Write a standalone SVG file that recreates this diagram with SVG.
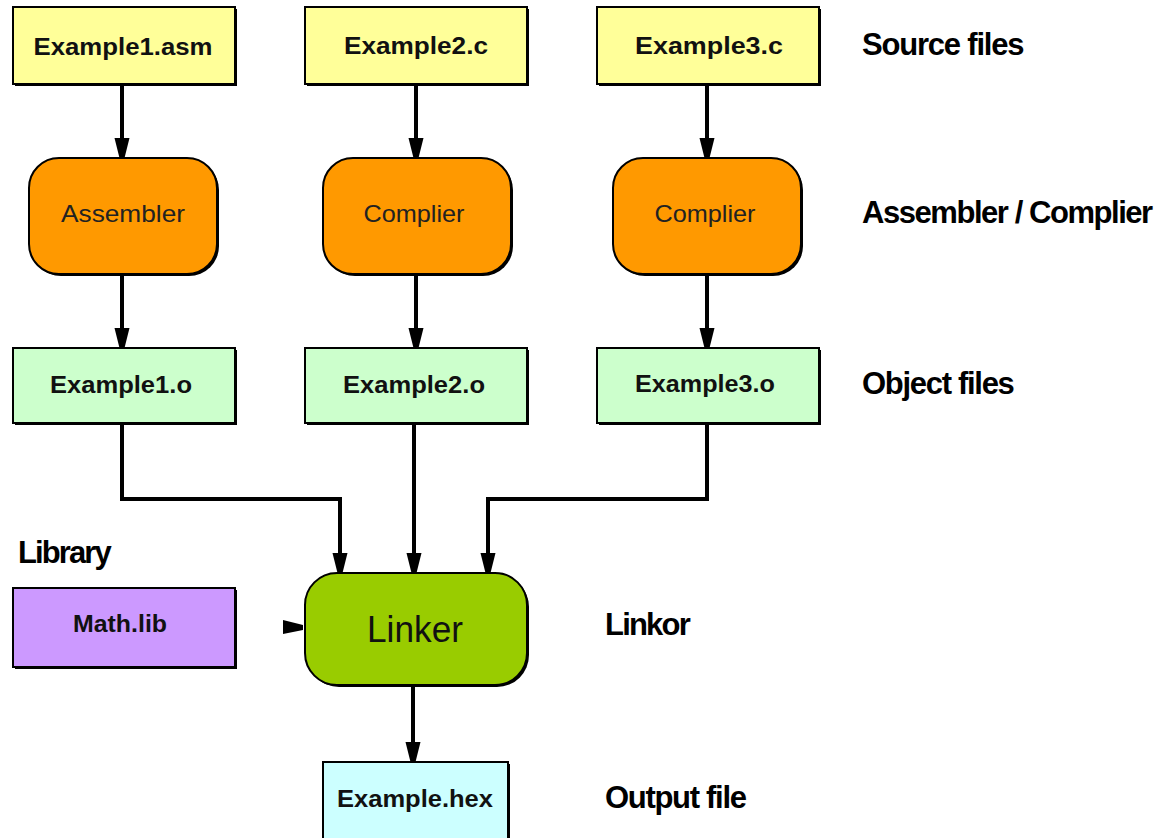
<svg xmlns="http://www.w3.org/2000/svg" width="1172" height="838" viewBox="0 0 1172 838">
  <defs>
    <style>
      .box { stroke: #000; stroke-width: 2; }
      .shadow { fill: #000; }
      .src { fill: #FFFF99; }
      .proc { fill: #FF9900; }
      .obj { fill: #CCFFCC; }
      .link { fill: #99CC00; }
      .lib { fill: #CC99FF; }
      .out { fill: #CCFFFF; }
      .node-text { font-family: "Liberation Sans", Arial, sans-serif; font-weight: bold; font-size: 23px; fill: #111; text-anchor: middle; }
      .proc-text { font-family: "Liberation Sans", Arial, sans-serif; font-size: 24px; fill: #222; text-anchor: middle; }
      .link-text { font-family: "Liberation Sans", Arial, sans-serif; font-size: 37px; fill: #111; text-anchor: middle; }
      .label { font-family: "Liberation Sans", Arial, sans-serif; font-weight: bold; font-size: 31px; fill: #000; }
      .wire { fill: none; stroke: #000; stroke-width: 4; marker-end: url(#head); }
    </style>
    <marker id="head" markerUnits="userSpaceOnUse" viewBox="0 0 20 16" markerWidth="20" markerHeight="16" refX="19" refY="8" orient="auto">
      <path d="M0,0.5 L20,5.5 L20,10.5 L0,15.5 Z" fill="#000"/>
    </marker>
  </defs>

  <rect width="1172" height="838" fill="#fff"/>

  <!-- connectors -->
  <g id="connectors">
    <path class="wire" d="M122,84 V157"/>
    <path class="wire" d="M416,84 V157"/>
    <path class="wire" d="M707,84 V157"/>
    <path class="wire" d="M122,274 V347"/>
    <path class="wire" d="M416,274 V347"/>
    <path class="wire" d="M707,274 V347"/>
    <path class="wire" d="M122,423 V499 H340 V572"/>
    <path class="wire" d="M414,423 V572"/>
    <path class="wire" d="M707,423 V499 H488 V572"/>
    <path class="wire" d="M413,685 V761"/>
    <path d="M283,620 L303,625 L303,630 L283,634 Z" fill="#000"/>
  </g>

  <!-- source files -->
  <g id="src1">
    <rect class="shadow" x="15" y="9" width="222" height="77"/>
    <rect class="box src" x="13" y="7" width="222" height="77"/>
    <text class="node-text" x="123" y="55" textLength="179" lengthAdjust="spacingAndGlyphs">Example1.asm</text>
  </g>
  <g id="src2">
    <rect class="shadow" x="307" y="9" width="222" height="77"/>
    <rect class="box src" x="305" y="7" width="222" height="77"/>
    <text class="node-text" x="416" y="54" textLength="144" lengthAdjust="spacingAndGlyphs">Example2.c</text>
  </g>
  <g id="src3">
    <rect class="shadow" x="599" y="9" width="222" height="77"/>
    <rect class="box src" x="597" y="7" width="222" height="77"/>
    <text class="node-text" x="709" y="54" textLength="148" lengthAdjust="spacingAndGlyphs">Example3.c</text>
  </g>

  <!-- assembler / compilers -->
  <g id="asm1">
    <rect class="shadow" x="31" y="160" width="188" height="116" rx="30"/>
    <rect class="box proc" x="29" y="158" width="188" height="116" rx="30"/>
    <text class="proc-text" x="123" y="222" textLength="124" lengthAdjust="spacingAndGlyphs">Assembler</text>
  </g>
  <g id="cc2">
    <rect class="shadow" x="325" y="160" width="188" height="116" rx="30"/>
    <rect class="box proc" x="323" y="158" width="188" height="116" rx="30"/>
    <text class="proc-text" x="414" y="222" textLength="101" lengthAdjust="spacingAndGlyphs">Complier</text>
  </g>
  <g id="cc3">
    <rect class="shadow" x="615" y="160" width="188" height="116" rx="30"/>
    <rect class="box proc" x="613" y="158" width="188" height="116" rx="30"/>
    <text class="proc-text" x="705" y="222" textLength="101" lengthAdjust="spacingAndGlyphs">Complier</text>
  </g>

  <!-- object files -->
  <g id="obj1">
    <rect class="shadow" x="15" y="350" width="222" height="75"/>
    <rect class="box obj" x="13" y="348" width="222" height="75"/>
    <text class="node-text" x="121" y="393" textLength="142" lengthAdjust="spacingAndGlyphs">Example1.o</text>
  </g>
  <g id="obj2">
    <rect class="shadow" x="307" y="350" width="222" height="75"/>
    <rect class="box obj" x="305" y="348" width="222" height="75"/>
    <text class="node-text" x="414" y="393" textLength="142" lengthAdjust="spacingAndGlyphs">Example2.o</text>
  </g>
  <g id="obj3">
    <rect class="shadow" x="599" y="350" width="222" height="75"/>
    <rect class="box obj" x="597" y="348" width="222" height="75"/>
    <text class="node-text" x="705" y="392" textLength="140" lengthAdjust="spacingAndGlyphs">Example3.o</text>
  </g>

  <!-- library -->
  <g id="mathlib">
    <rect class="shadow" x="15" y="590" width="222" height="79"/>
    <rect class="box lib" x="13" y="588" width="222" height="79"/>
    <text class="node-text" x="120" y="632" textLength="94" lengthAdjust="spacingAndGlyphs">Math.lib</text>
  </g>

  <!-- linker -->
  <g id="linker">
    <rect class="shadow" x="307" y="575" width="222" height="112" rx="32"/>
    <rect class="box link" x="305" y="573" width="222" height="112" rx="32"/>
    <text class="link-text" x="415" y="642" textLength="96" lengthAdjust="spacingAndGlyphs">Linker</text>
  </g>

  <!-- output -->
  <g id="hex">
    <rect class="shadow" x="325" y="764" width="185" height="80"/>
    <rect class="box out" x="323" y="762" width="185" height="80"/>
    <text class="node-text" x="415" y="807" textLength="156" lengthAdjust="spacingAndGlyphs">Example.hex</text>
  </g>

  <!-- stage labels (tight tracking) -->
  <g id="labels">
    <text class="label" x="862" y="55" letter-spacing="-1.2">Source files</text>
    <text class="label" x="862" y="223" letter-spacing="-1.45">Assembler / Complier</text>
    <text class="label" x="862" y="394" letter-spacing="-1.3">Object files</text>
    <text class="label" x="18" y="563" letter-spacing="-1.9">Library</text>
    <text class="label" x="605" y="635" letter-spacing="-1.8">Linkor</text>
    <text class="label" x="605" y="808" letter-spacing="-1.3">Output file</text>
  </g>
</svg>
